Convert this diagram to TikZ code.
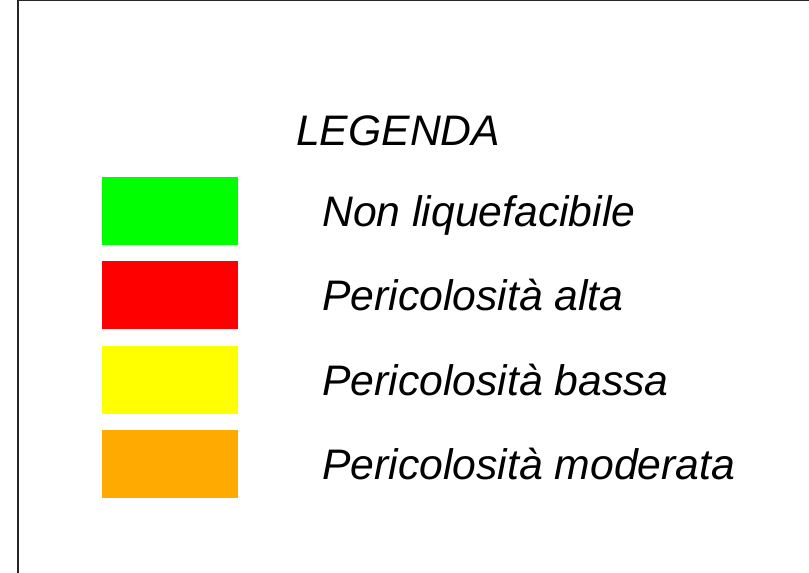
\documentclass[tikz,border=0pt]{standalone}
\usepackage{fontspec}
\setmainfont{Liberation Sans}
\begin{document}
\begin{tikzpicture}[x=1pt,y=-1pt,
  lbl/.style={anchor=base west,inner sep=0pt,font=\fontsize{42.7}{48}\selectfont\itshape},
  swatch/.style={draw=none}]
\useasboundingbox (0,0) rectangle (809,573);
\fill[white] (0,0) rectangle (809,573);
\draw[line width=1.2pt,color=black!85] (18,573) -- (18,0.6) -- (809,0.6);
\fill[color={rgb,255:red,0;green,255;blue,0}] (102,177) rectangle (238,245);
\fill[color={rgb,255:red,255;green,0;blue,0}] (102,261) rectangle (238,329);
\fill[color={rgb,255:red,255;green,255;blue,0}] (102,346) rectangle (238,414);
\fill[color={rgb,255:red,255;green,170;blue,0}] (102,430) rectangle (238,498);
\node[lbl] (t0) at (296,145) {LEGENDA};
\node[lbl] (t1) at (322,226) {Non liquefacibile};
\node[lbl] (t2) at (322,310) {Pericolosità alta};
\node[lbl] (t3) at (322,395) {Pericolosità bassa};
\node[lbl] (t4) at (322,479) {Pericolosità moderata};
\end{tikzpicture}
\end{document}
